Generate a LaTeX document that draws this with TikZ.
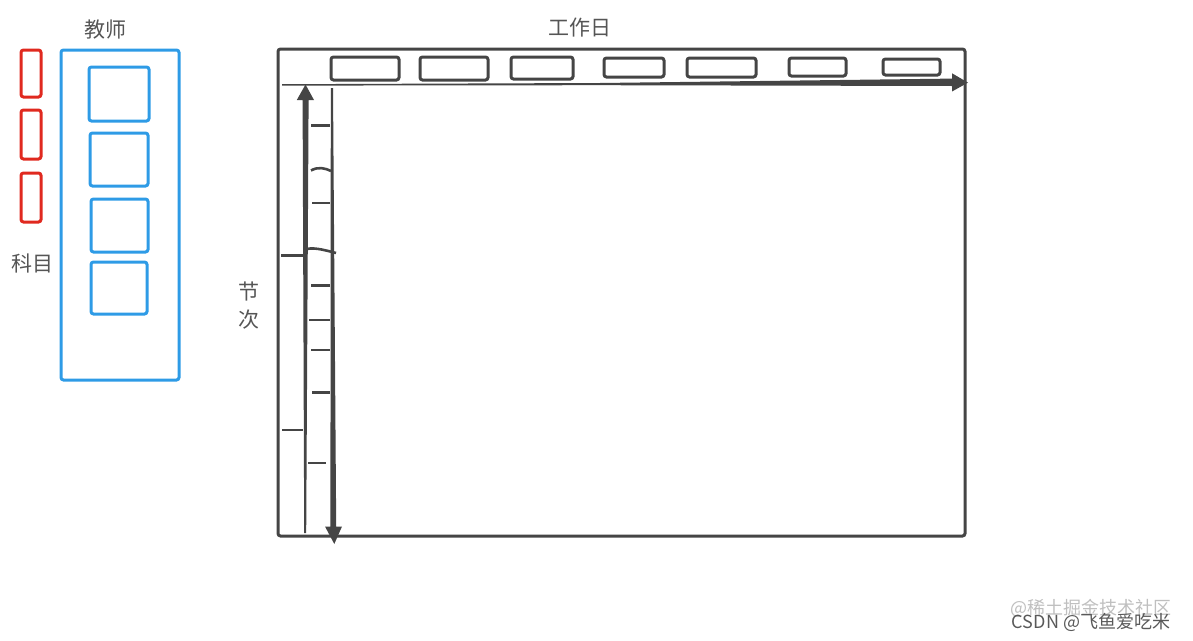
\documentclass[tikz,border=0pt]{standalone}
\usepackage{fontspec}
\newfontfamily\cjk{Noto Sans CJK SC}
\definecolor{sred}{HTML}{E0291F}
\definecolor{sblue}{HTML}{2E9BE6}
\definecolor{sgray}{HTML}{454545}
\definecolor{tgray}{HTML}{555555}
\begin{document}
\begin{tikzpicture}[x=1pt,y=-1pt,
  redbox/.style={draw=sred,line width=3pt,rounded corners=2.5pt,inner sep=0pt},
  bluebox/.style={draw=sblue,line width=3pt,rounded corners=2.5pt,inner sep=0pt},
  daybox/.style={draw=sgray,line width=3pt,rounded corners=2.5pt,inner sep=0pt},
  lbl/.style={font=\cjk\fontsize{21}{24}\selectfont,text=tgray,inner sep=0pt},
  tick/.style={draw=sgray,line width=2.6pt},
  ]
\useasboundingbox (0,0) rectangle (1193,640);
% subjects
\node[redbox,minimum width=20pt,minimum height=47pt] (r1) at (31,73.5) {};
\node[redbox,minimum width=20pt,minimum height=49pt] (r2) at (31,134.5) {};
\node[redbox,minimum width=20pt,minimum height=49pt] (r3) at (31,197.5) {};
\node[lbl] (subj) at (32,263) {科目};
% teachers
\node[lbl] (teach) at (105,30) {教师};
\node[bluebox,minimum width=118pt,minimum height=330pt] (tb) at (120,215) {};
\node[bluebox,minimum width=60pt,minimum height=54pt] (t1) at (119,94) {};
\node[bluebox,minimum width=58pt,minimum height=53pt] (t2) at (119,159.5) {};
\node[bluebox,minimum width=57pt,minimum height=53pt] (t3) at (119.5,225.5) {};
\node[bluebox,minimum width=56pt,minimum height=52pt] (t4) at (119,288) {};
% main frame
\node[lbl] (work) at (580,28) {工作日};
\node[daybox,minimum width=687pt,minimum height=487pt] (frame) at (621.5,292.5) {};
\node[daybox,minimum width=68pt,minimum height=23pt] (d1) at (365,68.5) {};
\node[daybox,minimum width=68pt,minimum height=23pt] (d2) at (454,68.5) {};
\node[daybox,minimum width=62pt,minimum height=22pt] (d3) at (542,68) {};
\node[daybox,minimum width=60pt,minimum height=19pt] (d4) at (634,67.5) {};
\node[daybox,minimum width=69pt,minimum height=19pt] (d5) at (721.5,67.5) {};
\node[daybox,minimum width=57pt,minimum height=18pt] (d6) at (817.5,67) {};
\node[daybox,minimum width=57pt,minimum height=16pt] (d7) at (911.5,67) {};
% horizontal tapered arrow
\fill[sgray] (282,84.2) -- (600,83) -- (952,78.6) -- (952,73.3) -- (968,82.6)
  -- (952,91.5) -- (952,86) -- (600,85.2) -- (282,85.6) -- cycle;
% vertical up arrow (thick at top)
\fill[sgray] (304.2,533) -- (302.6,100) -- (296.8,100) -- (305.5,84.5) -- (314,100)
  -- (308.6,100) -- (306.2,533) -- cycle;
% vertical down arrow (thick at bottom)
\fill[sgray] (330.8,88) -- (333,88) -- (336.2,526.5) -- (342,526.5) -- (334.3,544)
  -- (325,526.5) -- (330.4,526.5) -- cycle;
% ticks
\draw[tick] (311,125.5) -- (330,125.5);
\draw[tick] (311,170.5) .. controls (318,166.5) and (325,168) .. (331,171);
\draw[tick] (312,203) -- (330,203);
\draw[tick] (307,249) .. controls (315,247) and (328,251) .. (336,253);
\draw[tick] (311,285.5) -- (330,285.5);
\draw[tick] (309,320) -- (330,320);
\draw[tick] (311,350) -- (330,350);
\draw[tick] (312,392.5) -- (330,392.5);
\draw[tick] (308,463) -- (326,463);
\draw[tick] (281,255.5) -- (303,255.5);
\draw[tick] (282,430) -- (303,430);
% period label
\node[lbl] (jie) at (249,291) {节};
\node[lbl] (ci) at (249,320) {次};
% watermark
\node[font=\cjk\fontsize{18}{20}\selectfont,text=black!25,inner sep=0pt] (wm1) at (1091,608) {@稀土掘金技术社区};
\node[font=\cjk\fontsize{18}{20}\selectfont,text=black!65,inner sep=0pt] (wm2) at (1091,622) {CSDN @飞鱼爱吃米};
\end{tikzpicture}
\end{document}
